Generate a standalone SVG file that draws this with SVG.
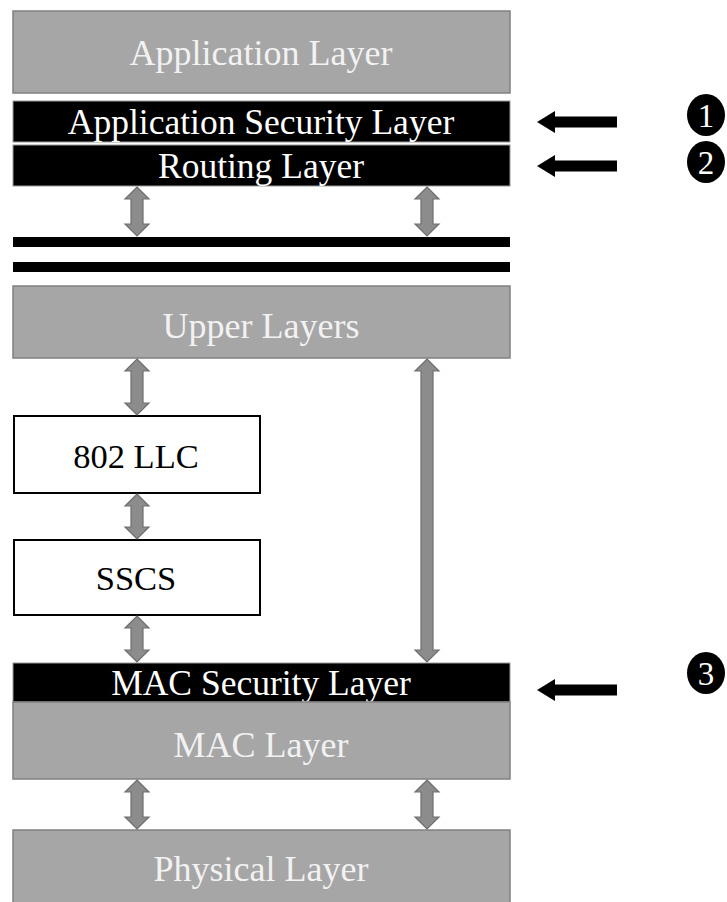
<svg xmlns="http://www.w3.org/2000/svg" width="727" height="902" viewBox="0 0 727 902">
<style>
.gray{fill:#a6a6a6;stroke:#808080;stroke-width:1.5}
.blk{fill:#000;stroke:#9a9a9a;stroke-width:1}
.wht{fill:#fff;stroke:#000;stroke-width:2}
.t{font-family:"Liberation Serif","Times New Roman",serif;text-anchor:middle}
.tg{fill:#f2f2f2;font-size:36px}
.tb{fill:#fff;font-size:35.5px}
.tk{fill:#000;font-size:34.5px}
.dar{fill:#8c8c8c;stroke:#6e6e6e;stroke-width:1.2}
.lar{fill:#000}
.num{fill:#fff;font-size:33px}
</style>
<rect width="727" height="902" fill="#fff"/>
<g id="app-layer"><rect class="gray" x="13" y="11" width="497" height="82"/><text class="t tg" x="261" y="65">Application Layer</text></g>
<g id="app-sec-layer"><rect class="blk" x="13" y="101" width="497" height="41"/><text class="t tb" x="261" y="134">Application Security Layer</text></g>
<g id="routing-layer"><rect class="blk" x="13" y="145" width="497" height="41"/><text class="t tb" x="261" y="178">Routing Layer</text></g>
<g id="bar1"><rect x="13" y="237" width="497" height="10" fill="#000"/></g>
<g id="bar2"><rect x="13" y="262" width="497" height="10" fill="#000"/></g>
<g id="upper-layers"><rect class="gray" x="13" y="286" width="497" height="72"/><text class="t tg" x="261" y="338">Upper Layers</text></g>
<g id="llc"><rect class="wht" x="14" y="416" width="246" height="77"/><text class="t tk" x="136" y="468">802 LLC</text></g>
<g id="sscs"><rect class="wht" x="14" y="540" width="246" height="75"/><text class="t tk" x="136" y="590">SSCS</text></g>
<g id="mac-sec-layer"><rect class="blk" x="13" y="663" width="497" height="39"/><text class="t tb" x="261" y="695">MAC Security Layer</text></g>
<g id="mac-layer"><rect class="gray" x="13" y="702" width="497" height="77"/><text class="t tg" x="261" y="757">MAC Layer</text></g>
<g id="phy-layer"><rect class="gray" x="13" y="830" width="497" height="80"/><text class="t tg" x="261" y="881">Physical Layer</text></g>
<g id="marker1"><ellipse cx="706" cy="115" rx="19" ry="21" fill="#000"/><text class="t num" x="706" y="127">1</text></g>
<g id="marker2"><ellipse cx="706" cy="162" rx="19" ry="21" fill="#000"/><text class="t num" x="706" y="174">2</text></g>
<g id="marker3"><ellipse cx="706" cy="673" rx="19" ry="21" fill="#000"/><text class="t num" x="706" y="685">3</text></g>
<g id="connectors">
<polygon class="dar" points="137,187 149,199 143,199 143,224 149,224 137,236 125,224 131,224 131,199 125,199"/>
<polygon class="dar" points="427,187 439,199 433,199 433,224 439,224 427,236 415,224 421,224 421,199 415,199"/>
<polygon class="dar" points="137,359 149,371 143,371 143,403 149,403 137,415 125,403 131,403 131,371 125,371"/>
<polygon class="dar" points="137,494 149,506 143,506 143,527 149,527 137,539 125,527 131,527 131,506 125,506"/>
<polygon class="dar" points="137,616 149,628 143,628 143,650 149,650 137,662 125,650 131,650 131,628 125,628"/>
<polygon class="dar" points="427,359 439,371 433,371 433,650 439,650 427,662 415,650 421,650 421,371 415,371"/>
<polygon class="dar" points="137,780 149,792 143,792 143,817 149,817 137,829 125,817 131,817 131,792 125,792"/>
<polygon class="dar" points="427,780 439,792 433,792 433,817 439,817 427,829 415,817 421,817 421,792 415,792"/>
<polygon class="lar" points="537,122 555,111 555,116.5 617,116.5 617,127.5 555,127.5 555,133"/>
<polygon class="lar" points="537,166 555,155 555,160.5 617,160.5 617,171.5 555,171.5 555,177"/>
<polygon class="lar" points="537,690 555,679 555,684.5 617,684.5 617,695.5 555,695.5 555,701"/>
</g>
</svg>
